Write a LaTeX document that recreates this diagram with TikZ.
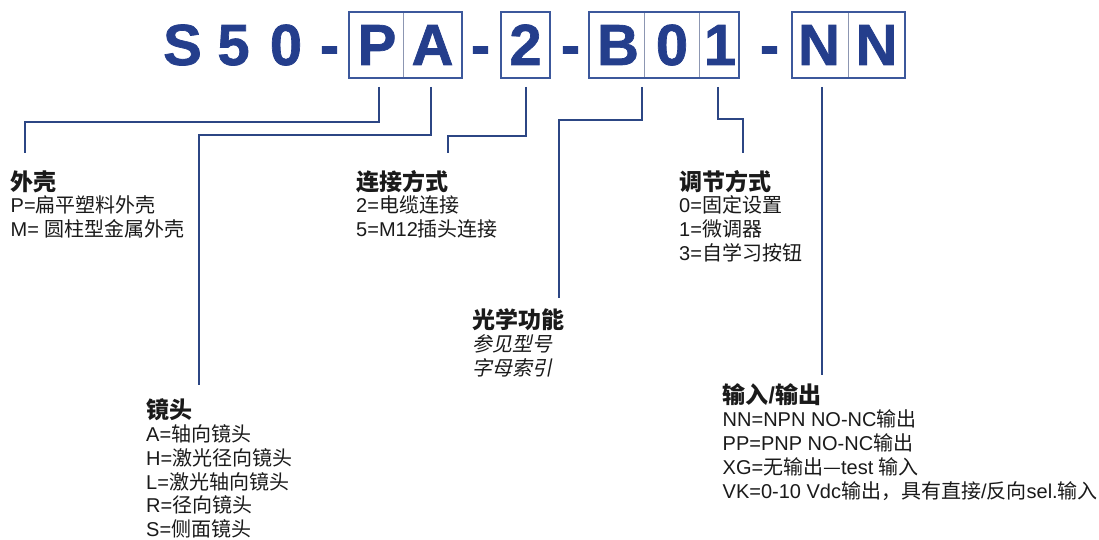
\documentclass[tikz,border=0pt]{standalone}
\usepackage{fontspec}
\setmainfont{Liberation Sans}
\newfontfamily\zh{Noto Sans CJK SC}
\newfontfamily\zhi[FakeSlant=0.2]{Noto Sans CJK SC}
\newfontfamily\codefont[FakeBold=1.2]{Liberation Sans Bold}
\definecolor{codec}{RGB}{36,62,140}
\definecolor{linec}{RGB}{44,70,132}
\definecolor{boxc}{RGB}{60,88,156}
\definecolor{divc}{RGB}{140,150,178}
\definecolor{txt}{RGB}{26,26,26}
\tikzset{
  hd/.style={anchor=base west, inner sep=0pt, text=txt, font=\zh\bfseries\fontsize{23}{23}\selectfont},
  bd/.style={anchor=base west, inner sep=0pt, text=txt, font=\fontsize{20}{20}\selectfont},
  code/.style={anchor=base, inner sep=0pt, text=codec, font=\codefont\fontsize{58}{58}\selectfont},
  conn/.style={draw=linec, line width=2.6pt},
  cell/.style={draw=boxc, line width=1.6pt},
  divline/.style={draw=divc, line width=1pt}
}
\begin{document}
\begin{tikzpicture}[x=1pt,y=-1pt]
\useasboundingbox[fill=white] (0,0) rectangle (1099,540);
% code letters
\node[code] (c1) at (182.5,65) {S};
\node[code] (c2) at (233.5,65) {5};
\node[code] (c3) at (286,65) {0};
\node[code] (d1) at (329.5,65) {-};
\node[code] (cP) at (377,65) {P};
\node[code] (cA) at (432.5,65) {A};
\node[code] (d2) at (480.5,65) {-};
\node[code] (c2b) at (525.5,65) {2};
\node[code] (d3) at (570.5,65) {-};
\node[code] (cB) at (618,65) {B};
\node[code] (c0) at (672,65) {0};
\node[code] (c1b) at (720,65) {1};
\node[code] (d4) at (769.5,65) {-};
\node[code] (cN1) at (819,65) {N};
\node[code] (cN2) at (876.5,65) {N};
% boxes
\draw[divline] (403,12) -- (403,78);
\draw[divline] (644,12) -- (644,78);
\draw[divline] (699,12) -- (699,78);
\draw[divline] (848,12) -- (848,78);
\draw[cell] (349,12) rectangle (462,78);
\draw[cell] (501,12) rectangle (550,78);
\draw[cell] (589,12) rectangle (739,78);
\draw[cell] (792,12) rectangle (905,78);
% text blocks
\node[hd] (wkH) at (10.5,190.5) {外壳};
\node[bd] (wk1) at (10.5,212.5) {P={\zh 扁平塑料外壳}};
\node[bd] (wk2) at (10.5,236.5) {M= {\zh 圆柱型金属外壳}};

\node[hd] (ljH) at (356,190.5) {连接方式};
\node[bd] (lj1) at (356,212.5) {2={\zh 电缆连接}};
\node[bd] (lj2) at (356,236.5) {5=M12{\zh 插头连接}};

\node[hd] (tjH) at (679,190.5) {调节方式};
\node[bd] (tj1) at (679,212.5) {0={\zh 固定设置}};
\node[bd] (tj2) at (679,236.5) {1={\zh 微调器}};
\node[bd] (tj3) at (679,260.5) {3={\zh 自学习按钮}};

\node[hd] (gxH) at (472,328.5) {光学功能};
\node[bd] (gx1) at (472,351) {\zhi 参见型号};
\node[bd] (gx2) at (472,375) {\zhi 字母索引};

\node[hd] (jtH) at (146,418.5) {镜头};
\node[bd] (jt1) at (146,441.5) {A={\zh 轴向镜头}};
\node[bd] (jt2) at (146,465.3) {H={\zh 激光径向镜头}};
\node[bd] (jt3) at (146,489.1) {L={\zh 激光轴向镜头}};
\node[bd] (jt4) at (146,512.9) {R={\zh 径向镜头}};
\node[bd] (jt5) at (146,536.7) {S={\zh 侧面镜头}};

\node[hd] (ioH) at (722.5,403.5) {输入{\bfseries\rmfamily /}输出};
\node[bd] (io1) at (722.5,426.5) {NN=NPN NO-NC{\zh 输出}};
\node[bd] (io2) at (722.5,450.5) {PP=PNP NO-NC{\zh 输出}};
\node[bd] (io3) at (722.5,474.5) {XG={\zh 无输出—}test {\zh 输入}};
\node[bd] (io4) at (722.5,498.5) {VK=0-10 Vdc{\zh 输出，具有直接}/{\zh 反向}sel.{\zh 输入}};
% connector coordinates
\coordinate (sP) at (379,87);
\coordinate (sA) at (431,87);
\coordinate (s2) at (526,87);
\coordinate (sB) at (642,87);
\coordinate (s1) at (718,87);
\coordinate (sN) at (822,87);
\coordinate (eWK) at (25,153);
\coordinate (eJT) at (199,385);
\coordinate (eLJ) at (448,153);
\coordinate (eGX) at (559,298);
\coordinate (eTJ) at (743,153);
\coordinate (eIO) at (822,375);
% connectors
\draw[conn] (sP) -- ++(0,35) -| (eWK);
\draw[conn] (sA) -- ++(0,48) -| (eJT);
\draw[conn] (s2) -- ++(0,49) -| (eLJ);
\draw[conn] (sB) -- ++(0,33) -| (eGX);
\draw[conn] (s1) -- ++(0,32) -| (eTJ);
\draw[conn] (sN) -- (eIO);
\end{tikzpicture}
\end{document}
